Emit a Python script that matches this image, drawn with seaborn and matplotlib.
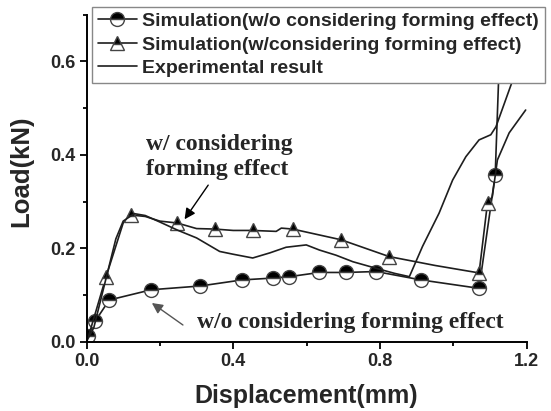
import matplotlib
matplotlib.use("Agg")
import matplotlib.pyplot as plt
import seaborn as sns
from matplotlib.ticker import MultipleLocator

# Simulation without forming effect (circles)
x_wo = [0.005, 0.023, 0.062, 0.177, 0.310, 0.424, 0.508, 0.553, 0.635, 0.707, 0.789, 0.912, 1.070, 1.114, 1.123, 1.135]
y_wo = [0.011, 0.043, 0.089, 0.111, 0.119, 0.132, 0.136, 0.139, 0.148, 0.148, 0.150, 0.132, 0.114, 0.357, 0.555, 0.75]
mark_wo = list(range(14))

# Simulation with forming effect (triangles)
x_w = [0.005, 0.053, 0.100, 0.122, 0.160, 0.200, 0.247, 0.300, 0.349, 0.400, 0.453, 0.517, 0.531,
       0.562, 0.602, 0.694, 0.825, 0.950, 1.070, 1.093, 1.106, 1.120, 1.152, 1.197]
y_w = [0.010, 0.138, 0.254, 0.271, 0.268, 0.258, 0.254, 0.242, 0.241, 0.238, 0.238, 0.236, 0.243,
       0.241, 0.234, 0.218, 0.182, 0.163, 0.147, 0.297, 0.310, 0.389, 0.447, 0.496]
mark_w = [1, 3, 6, 8, 10, 13, 15, 16, 18, 19]

# Experimental result
x_exp = [0.0, 0.02, 0.05, 0.08, 0.10, 0.13, 0.16, 0.20, 0.25, 0.30, 0.363, 0.40, 0.453, 0.50, 0.544,
         0.599, 0.635, 0.68, 0.726, 0.789, 0.84, 0.88, 0.916, 0.961, 0.998, 1.034, 1.070, 1.102,
         1.116, 1.159, 1.20]
y_exp = [0.0, 0.03, 0.125, 0.22, 0.258, 0.274, 0.270, 0.256, 0.238, 0.222, 0.193, 0.187, 0.179, 0.190,
         0.202, 0.207, 0.196, 0.185, 0.171, 0.157, 0.146, 0.139, 0.204, 0.275, 0.346, 0.396, 0.432,
         0.443, 0.460, 0.554, 0.650]

sns.set_theme(style="ticks")
plt.rcParams["font.family"] = ["Liberation Sans", "DejaVu Sans"]
plt.rcParams["font.weight"] = "bold"

fig = plt.figure(figsize=(5.51, 4.11), dpi=100)
ax = fig.add_axes([0.157, 0.169, 0.799, 0.795])

line_col = "#1e1e1e"
sns.lineplot(x=x_wo, y=y_wo, ax=ax, sort=False, estimator=None, color=line_col, lw=1.2,
             marker="o", markersize=10, fillstyle="top", markerfacecolor="black",
             markerfacecoloralt="white", markeredgecolor="#444444", markeredgewidth=1.0,
             markevery=mark_wo, label="Simulation(w/o considering forming effect)")
sns.lineplot(x=x_w, y=y_w, ax=ax, sort=False, estimator=None, color=line_col, lw=1.2,
             marker="^", markersize=10, fillstyle="top", markerfacecolor="black",
             markerfacecoloralt="white", markeredgecolor="#444444", markeredgewidth=1.0,
             markevery=mark_w, label="Simulation(w/considering forming effect)")
sns.lineplot(x=x_exp, y=y_exp, ax=ax, sort=False, estimator=None, color=line_col, lw=1.2,
             label="Experimental result")

ax.set_xlim(0, 1.2)
ax.set_ylim(0, 0.7)
ax.xaxis.set_major_locator(MultipleLocator(0.4))
ax.xaxis.set_minor_locator(MultipleLocator(0.2))
ax.yaxis.set_major_locator(MultipleLocator(0.2))
ax.yaxis.set_minor_locator(MultipleLocator(0.1))
ax.tick_params(which="major", length=5, width=1.3, labelsize=13, color="black", pad=3)
ax.tick_params(which="minor", length=3, width=1.3, color="black")
for lab in ax.get_xticklabels() + ax.get_yticklabels():
    lab.set_fontweight("bold")
sns.despine(ax=ax)
for s in ["left", "bottom"]:
    ax.spines[s].set_linewidth(1.4)
    ax.spines[s].set_color("black")

ax.set_xlabel("Displacement(mm)", fontsize=18, fontweight="bold", labelpad=10)
ax.set_ylabel("Load(kN)", fontsize=18.5, fontweight="bold", labelpad=7)
ax.yaxis.set_label_coords(-0.122, 0.52)

leg = ax.legend(loc="upper right", bbox_to_anchor=(1.0416, 1.0245), fontsize=14, frameon=True,
                fancybox=False, edgecolor="#888888", framealpha=1, handlelength=2.0,
                borderpad=0.3, labelspacing=0.3, handletextpad=0.3, borderaxespad=0)
leg.get_frame().set_linewidth(1.0)
for t in leg.get_texts():
    t.set_fontweight("bold")

serif = ["Liberation Serif", "DejaVu Serif"]
ax.text(0.161, 0.411, "w/ considering", family=serif, fontsize=17,
        fontweight="bold", va="baseline", ha="left")
ax.text(0.161, 0.357, "forming effect", family=serif, fontsize=17,
        fontweight="bold", va="baseline", ha="left")
ax.annotate("", xy=(0.263, 0.257), xytext=(0.336, 0.34),
            arrowprops=dict(arrowstyle="-|>", color="black", lw=1.0, mutation_scale=16))
ax.text(0.300, 0.029, "w/o considering forming effect", family=serif, fontsize=17,
        fontweight="bold", va="baseline", ha="left")
ax.annotate("", xy=(0.172, 0.086), xytext=(0.269, 0.032),
            arrowprops=dict(arrowstyle="-|>", color="#555555", lw=1.0, mutation_scale=16))

fig.savefig("out.png", dpi=100)
